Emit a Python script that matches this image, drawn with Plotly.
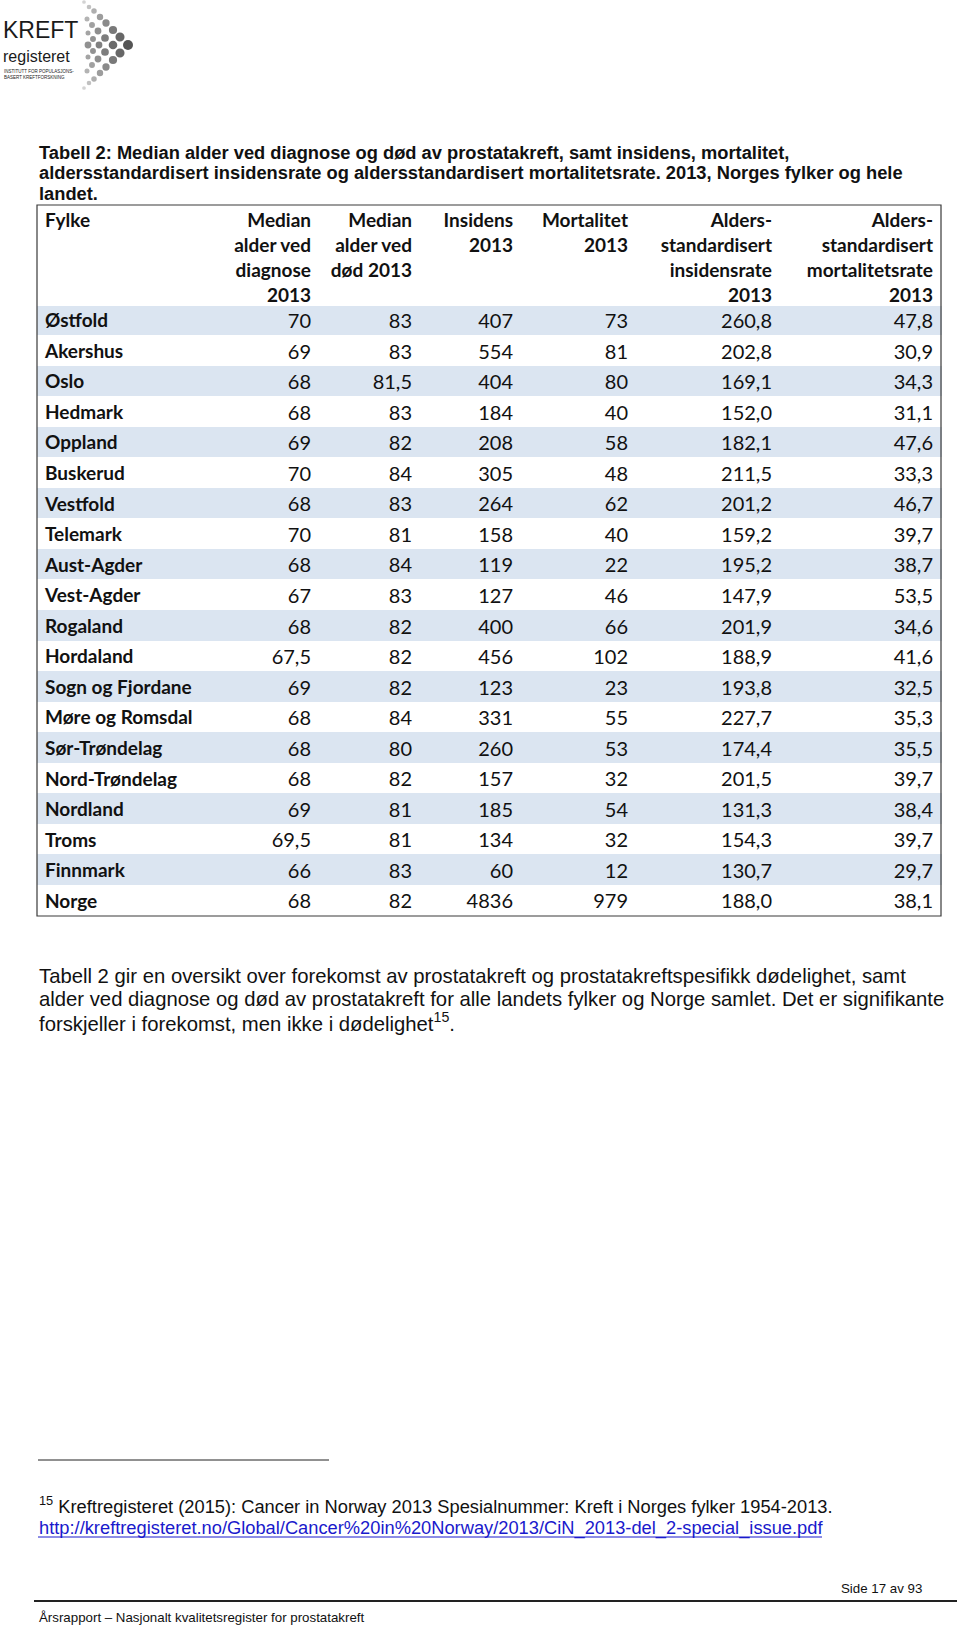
import plotly.graph_objects as go

W, H = 960, 1627

# ---------------- data ----------------
fylker = ["Østfold", "Akershus", "Oslo", "Hedmark", "Oppland", "Buskerud", "Vestfold",
          "Telemark", "Aust-Agder", "Vest-Agder", "Rogaland", "Hordaland",
          "Sogn og Fjordane", "Møre og Romsdal", "Sør-Trøndelag", "Nord-Trøndelag",
          "Nordland", "Troms", "Finnmark", "Norge"]
median_diagnose = [70, 69, 68, 68, 69, 70, 68, 70, 68, 67, 68, 67.5, 69, 68, 68, 68, 69, 69.5, 66, 68]
median_dod = [83, 83, 81.5, 83, 82, 84, 83, 81, 84, 83, 82, 82, 82, 84, 80, 82, 81, 81, 83, 82]
insidens = [407, 554, 404, 184, 208, 305, 264, 158, 119, 127, 400, 456, 123, 331, 260, 157, 185, 134, 60, 4836]
mortalitet = [73, 81, 80, 40, 58, 48, 62, 40, 22, 46, 66, 102, 23, 55, 53, 32, 54, 32, 12, 979]
asr_insidens = [260.8, 202.8, 169.1, 152.0, 182.1, 211.5, 201.2, 159.2, 195.2, 147.9, 201.9,
                188.9, 193.8, 227.7, 174.4, 201.5, 131.3, 154.3, 130.7, 188.0]
asr_mortalitet = [47.8, 30.9, 34.3, 31.1, 47.6, 33.3, 46.7, 39.7, 38.7, 53.5, 34.6, 41.6,
                  32.5, 35.3, 35.5, 39.7, 38.4, 39.7, 29.7, 38.1]
# header text, one list of lines per column
headers = [["Fylke", "", "", ""],
           ["Median", "alder ved", "diagnose", "2013"],
           ["Median", "alder ved", "død 2013", ""],
           ["Insidens", "2013", "", ""],
           ["Mortalitet", "2013", "", ""],
           ["Alders-", "standardisert", "insidensrate", "2013"],
           ["Alders-", "standardisert", "mortalitetsrate", "2013"]]


def fmt_g(v):
    return f"{v:g}".replace(".", ",")


def fmt_1(v):
    return f"{v:.1f}".replace(".", ",")


NBSP = "\u00a0"
header_values = [[s.replace(" ", NBSP) for s in col] for col in headers]

columns = [
    [f.replace(" ", NBSP) for f in fylker],
    [fmt_g(v) for v in median_diagnose],
    [fmt_g(v) for v in median_dod],
    [str(v) for v in insidens],
    [str(v) for v in mortalitet],
    [fmt_1(v) for v in asr_insidens],
    [fmt_1(v) for v in asr_mortalitet],
]

row_colors = ["#dbe5f1" if i % 2 == 0 else "#ffffff" for i in range(len(fylker))]

ARIAL = "Liberation Sans, Arial, sans-serif"
CAL = "Lato, Carlito, Calibri, sans-serif"

# table geometry (px)
TX0, TX1, TTOP = 37, 941, 205
HEAD_ROW_H, ROW_H = 25, 30.55
TBOT = TTOP + HEAD_ROW_H * 4 + ROW_H * len(fylker)

fig = go.Figure()
fig.add_trace(go.Table(
    domain=dict(x=[TX0 / W, TX1 / W], y=[1 - (TBOT + 12) / H, 1 - TTOP / H]),
    columnwidth=[182, 100, 101, 101, 115, 144, 161],
    header=dict(
        values=header_values,
        align=["left"] + ["right"] * 6,
        height=HEAD_ROW_H,
        fill=dict(color="white"),
        line=dict(color="white", width=1),
        font=dict(family=CAL, size=19, color="#111111", weight="bold"),
    ),
    cells=dict(
        values=columns,
        align=["left"] + ["right"] * 6,
        height=ROW_H,
        fill=dict(color=[row_colors]),
        line=dict(color=[row_colors], width=1),
        font=dict(family=CAL, size=[19] + [20] * 6, color="#111111",
                  weight=["bold"] + ["normal"] * 6),
    ),
))


def X(x):
    return x / W


def Y(y):
    return 1 - y / H


annotations = []
shapes = []


def txt(x, y, s, size, family=ARIAL, color="#111111", xanchor="left"):
    annotations.append(dict(x=X(x), y=Y(y), xref="paper", yref="paper", text=s,
                            showarrow=False, xanchor=xanchor, yanchor="middle",
                            font=dict(family=family, size=size, color=color)))


def hline(x0, x1, y, color="#222222", width=1):
    shapes.append(dict(type="line", xref="paper", yref="paper", x0=X(x0), x1=X(x1),
                       y0=Y(y), y1=Y(y), line=dict(color=color, width=width)))


# table outer border
shapes.append(dict(type="rect", xref="paper", yref="paper", x0=X(TX0), x1=X(TX1),
                   y0=Y(TBOT), y1=Y(TTOP), line=dict(color="#3a3a3a", width=1.2)))

# ---------------- logo ----------------
txt(1, 30, "KREFT", 23, color="#1a1a1a")
txt(1, 56, "registeret", 16, color="#1a1a1a")
txt(2, 72, "INSTITUTT FOR POPULASJONS-", 4.5, color="#1a1a1a")
txt(2, 78, "BASERT KREFTFORSKNING", 4.5, color="#1a1a1a")

chevrons = [
    ((128, 45), [(120, 37), (113, 30), (106, 23), (100, 17), (94, 11), (89, 7), (84, 2)]),
    ((113, 45), [(105, 38), (98, 31), (92, 25), (87, 19)]),
    ((99, 45), [(93, 39), (88, 33)]),
    ((88, 45), []),
]
for apex, arm in chevrons:
    pts = [(apex, 0)]
    for k, (ax, ay) in enumerate(arm):
        pts.append(((ax, ay), k + 1))
        pts.append(((ax, 90 - ay), k + 1))
    for (cx, cy), k in pts:
        base = 5.0 if apex[0] > 120 else (4.3 if apex[0] > 105 else 3.4)
        r = max(1.3, base - 0.45 * k)
        g = min(215, 85 + 18 * k + (128 - apex[0]) * 1.5)
        col = "rgb(%d,%d,%d)" % (g, g, g)
        shapes.append(dict(type="circle", xref="paper", yref="paper",
                           x0=X(cx - r), x1=X(cx + r), y0=Y(cy + r), y1=Y(cy - r),
                           fillcolor=col, line=dict(width=0)))

# ---------------- title ----------------
txt(37, 152.5, "<b>Tabell 2: Median alder ved diagnose og død av prostatakreft, samt insidens, mortalitet,</b>", 18.3)
txt(37, 173, "<b>aldersstandardisert insidensrate og aldersstandardisert mortalitetsrate. 2013, Norges fylker og hele</b>", 18.3)
txt(37, 193, "<b>landet.</b>", 18.3)

# ---------------- paragraph ----------------
txt(37, 975.5, "Tabell 2 gir en oversikt over forekomst av prostatakreft og prostatakreftspesifikk dødelighet, samt", 20.3)
txt(37, 999, "alder ved diagnose og død av prostatakreft for alle landets fylker og Norge samlet. Det er signifikante", 20.3)
txt(37, 1022, "forskjeller i forekomst, men ikke i dødelighet<sup>15</sup>.", 20.3)

# ---------------- footnote ----------------
hline(38, 329, 1460, color="#222222", width=1)
txt(37, 1505, "<sup>15</sup> Kreftregisteret (2015): Cancer in Norway 2013 Spesialnummer: Kreft i Norges fylker 1954-2013.", 18.3)
txt(37, 1527.5, "http://kreftregisteret.no/Global/Cancer%20in%20Norway/2013/CiN_2013-del_2-special_issue.pdf", 18.3,
    color="#1a1acc")
hline(38, 822, 1537, color="#1a1acc", width=1)

# ---------------- page footer ----------------
txt(924, 1588, "Side 17 av 93", 13.3, xanchor="right")
hline(34, 957, 1601, color="#222222", width=2)
txt(37, 1617, "Årsrapport – Nasjonalt kvalitetsregister for prostatakreft", 13.3)

fig.update_layout(
    width=W, height=H,
    margin=dict(l=0, r=0, t=0, b=0),
    paper_bgcolor="white", plot_bgcolor="white",
    annotations=annotations, shapes=shapes,
    showlegend=False,
)
fig.update_xaxes(visible=False)
fig.update_yaxes(visible=False)

fig.write_html("out.html", config={"displayModeBar": False},
               post_script="document.body.style.margin='0px';")
